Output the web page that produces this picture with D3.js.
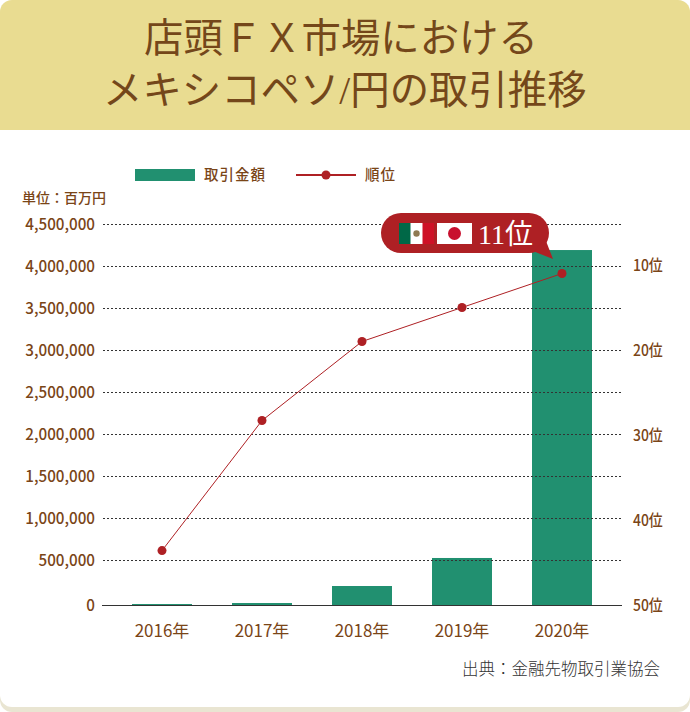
<!DOCTYPE html>
<html lang="ja">
  <head>
    <meta charset="UTF-8">
    <style>
      html, body {
        margin: 0;
        padding: 0;
        background: #fff;
      }

      svg {
        display: block;
      }

      text {
        font-family: "Noto Sans CJK JP", sans-serif;
      }

      .title text {
        fill: #74471a;
        font-size: 39.4px;
        font-family: "Liberation Serif", "Noto Sans CJK JP", serif;
      }

      .x-axis text,
      .y-axis text,
      .rank-axis text,
      .legend text,
      .unit {
        fill: #7a4517;
        font-weight: 500;
      }

      .y-axis text,
      .rank-axis text {
        font-size: 16px;
      }

      .x-axis text {
        font-size: 17px;
        font-weight: 400;
      }

      .legend text {
        letter-spacing: 1px;
      }

      .y-axis .domain,
      .rank-axis .domain,
      .x-axis .domain,
      .x-axis .tick line,
      .rank-axis .tick line {
        display: none;
      }

      .y-axis .tick line {
        stroke: #333;
        stroke-dasharray: 2 2;
      }
    </style>
    <script src="https://d3js.org/d3.v7.min.js"></script>
  </head>

  <body>
    <svg id="chart"></svg>

    <script type="text/javascript">
      const titleLines = ['店頭ＦＸ市場における', 'メキシコペソ/円の取引推移']
      const years = ['2016年', '2017年', '2018年', '2019年', '2020年']
      const volumes = [11000, 22000, 211000, 524000, 4190000]
      const ranks = [43.6, 28.3, 19, 15, 11]
      const volumeTicks = [0, 500000, 1000000, 1500000, 2000000, 2500000, 3000000, 3500000, 4000000, 4500000]
      const rankTicks = [10, 20, 30, 40, 50]
      const legendLabels = ['取引金額', '順位']
      const unitLabel = '単位：百万円'
      const sourceLabel = '出典：金融先物取引業協会'
      const calloutLabel = '11位'

      const width = 690
      const height = 712
      const green = '#219070'
      const red = '#ae2024'

      const svg = d3.select('#chart')
        .attr('width', width)
        .attr('height', height)

      // the original tick font is narrower than anything installed
      function condense(selection, factor) {
        selection.each(function() {
          d3.select(this)
            .attr('textLength', this.getComputedTextLength() * factor)
            .attr('lengthAdjust', 'spacingAndGlyphs')
        })
      }

      function drawCard() {
        svg.append('rect')
          .attr('width', width)
          .attr('height', height)
          .attr('rx', 12)
          .attr('fill', '#e9e5d2')

        svg.append('rect')
          .attr('width', width)
          .attr('height', height - 5)
          .attr('rx', 12)
          .attr('fill', '#fff')

        svg.append('path')
          .attr('d', `M0,130V12A12,12 0 0 1 12,0H${width - 12}A12,12 0 0 1 ${width},12V130Z`)
          .attr('fill', '#e9dc91')

        svg.append('g')
          .attr('class', 'title')
          .selectAll('text')
          .data(titleLines)
          .join('text')
            .attr('x', (d, i) => i === 0 ? 144 : 103)
            .attr('y', (d, i) => 52 + i * 52)
            .text(d => d)
      }

      function getScales() {
        let x = d3.scaleBand()
          .domain(years)
          .range([112, 612])
          .paddingInner(0.4)
          .paddingOuter(0.2)

        // the zero line sits a little lower than the even grid spacing
        let y = d3.scaleLinear()
          .domain([0, 500000, 4500000])
          .range([605, 560, 224])

        let rank = d3.scaleLinear()
          .domain([10, 50])
          .range([265, 605])

        return { x, y, rank }
      }

      function drawBars(scales) {
        svg.append('g')
          .selectAll('rect')
          .data(volumes)
          .join('rect')
            .attr('x', (d, i) => scales.x(years[i]))
            .attr('y', d => scales.y(d))
            .attr('width', scales.x.bandwidth())
            .attr('height', d => scales.y(0) - scales.y(d))
            .attr('fill', green)
      }

      function drawAxes(scales) {
        let yAxis = svg.append('g')
          .attr('class', 'y-axis')
          .attr('transform', 'translate(103, 0)')
          .call(d3.axisLeft(scales.y)
            .tickValues(volumeTicks)
            .tickFormat(d3.format(','))
            .tickSizeInner(-518)
            .tickSizeOuter(0)
            .tickPadding(8))

        yAxis.selectAll('.tick')
          .filter(d => d === 0)
          .select('line')
          .remove()

        yAxis.selectAll('text').call(condense, 0.95)

        svg.append('line')
          .attr('x1', 102)
          .attr('x2', 622)
          .attr('y1', scales.y(0) + 0.5)
          .attr('y2', scales.y(0) + 0.5)
          .attr('stroke', '#333')
          .attr('stroke-width', 1.2)

        svg.append('g')
          .attr('class', 'x-axis')
          .attr('transform', `translate(0, ${scales.y(0)})`)
          .call(d3.axisBottom(scales.x)
            .tickSize(0)
            .tickPadding(20))

        let rankAxis = svg.append('g')
          .attr('class', 'rank-axis')
          .attr('transform', 'translate(621, 0)')
          .call(d3.axisRight(scales.rank)
            .tickValues(rankTicks)
            .tickFormat(d => `${d}位`)
            .tickSize(0)
            .tickPadding(12))

        rankAxis.selectAll('text').call(condense, 0.87)
      }

      function drawRankLine(scales) {
        let centre = d => scales.x(d) + scales.x.bandwidth() / 2
        let line = d3.line()
          .x((d, i) => centre(years[i]))
          .y(d => scales.rank(d))

        svg.append('path')
          .datum(ranks)
          .attr('d', line)
          .attr('fill', 'none')
          .attr('stroke', red)
          .attr('stroke-width', 1)

        svg.append('g')
          .selectAll('circle')
          .data(ranks)
          .join('circle')
            .attr('cx', (d, i) => centre(years[i]))
            .attr('cy', d => scales.rank(d))
            .attr('r', 4.5)
            .attr('fill', red)
      }

      function drawLegend() {
        let g = svg.append('g').attr('class', 'legend')

        g.append('rect')
          .attr('x', 135)
          .attr('y', 169)
          .attr('width', 60)
          .attr('height', 12)
          .attr('fill', green)

        g.append('line')
          .attr('x1', 296)
          .attr('x2', 356)
          .attr('y1', 175)
          .attr('y2', 175)
          .attr('stroke', red)
          .attr('stroke-width', 2)

        g.append('circle')
          .attr('cx', 326)
          .attr('cy', 175)
          .attr('r', 4.5)
          .attr('fill', red)

        g.selectAll('text')
          .data(legendLabels)
          .join('text')
            .attr('x', (d, i) => i === 0 ? 204 : 365)
            .attr('y', 180)
            .attr('font-size', 14.5)
            .text(d => d)

        svg.append('text')
          .attr('class', 'unit')
          .attr('x', 22)
          .attr('y', 203)
          .attr('font-size', 14)
          .text(unitLabel)

        svg.append('text')
          .attr('x', 660)
          .attr('y', 675)
          .attr('text-anchor', 'end')
          .attr('font-size', 16.5)
          .attr('font-weight', 300)
          .attr('fill', '#333')
          .text(sourceLabel)
      }

      function drawCallout(scales) {
        // placed relative to the 2020 point
        let px = scales.x(years[4]) + scales.x.bandwidth() / 2
        let py = scales.rank(ranks[4])
        let g = svg.append('g').attr('transform', `translate(${px}, ${py})`)

        g.append('rect')
          .attr('x', -181)
          .attr('y', -60.5)
          .attr('width', 168)
          .attr('height', 40)
          .attr('rx', 20)
          .attr('fill', red)

        g.append('path')
          .attr('d', 'M-28,-22L-9,-14.5L-17,-35Z')
          .attr('fill', red)

        // Mexican flag
        g.append('rect').attr('x', -163).attr('y', -50.5).attr('width', 35).attr('height', 21).attr('fill', '#fff')
        g.append('rect').attr('x', -163).attr('y', -50.5).attr('width', 11.5).attr('height', 21).attr('fill', '#006847')
        g.append('rect').attr('x', -139.5).attr('y', -50.5).attr('width', 11.5).attr('height', 21).attr('fill', '#ce1126')
        g.append('circle').attr('cx', -145.5).attr('cy', -40).attr('r', 3.2).attr('fill', '#8f7a52')

        // Japanese flag
        g.append('rect').attr('x', -125).attr('y', -50.5).attr('width', 35).attr('height', 21).attr('fill', '#fff')
        g.append('circle').attr('cx', -107.5).attr('cy', -40).attr('r', 6.5).attr('fill', '#c8102e')

        g.append('text')
          .attr('x', -84)
          .attr('y', -29.5)
          .attr('fill', '#fff')
          .attr('font-size', 28)
          .style('font-family', '"Liberation Serif", "Noto Sans CJK JP", serif')
          .text(calloutLabel)
      }

      let scales = getScales()
      drawCard()
      drawBars(scales)
      drawAxes(scales)
      drawRankLine(scales)
      drawLegend()
      drawCallout(scales)
    </script>
  </body>
</html>
